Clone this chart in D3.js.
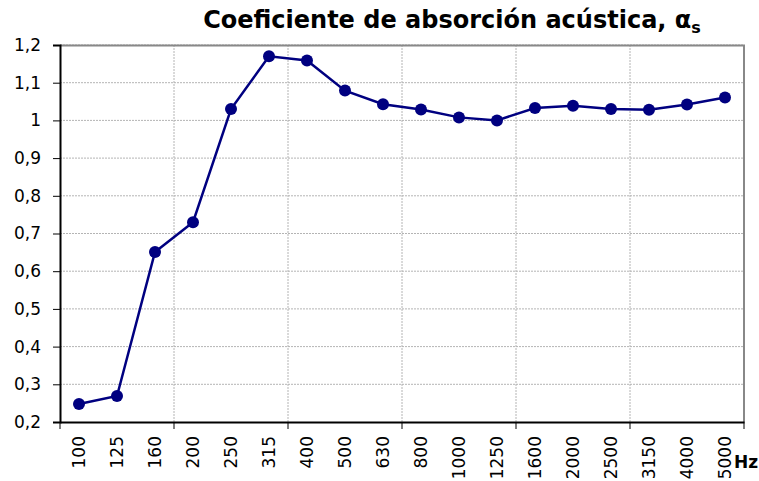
<!DOCTYPE html>
<html>
<head>
<meta charset="utf-8">
<script src="https://cdn.jsdelivr.net/npm/d3@7"></script>
<style>
  body { margin: 0; background: #fff; }
  text { font-family: Tahoma, "DejaVu Sans", sans-serif; }
</style>
</head>
<body>
<div id="chart-area"></div>
<script>
const freqs = ["100", "125", "160", "200", "250", "315", "400", "500", "630", "800",
	"1000", "1250", "1600", "2000", "2500", "3150", "4000", "5000"];
const alpha = [0.248, 0.269, 0.651, 0.73, 1.03, 1.17, 1.159, 1.079, 1.043, 1.029,
	1.008, 1.0, 1.033, 1.039, 1.03, 1.028, 1.042, 1.061];
const yTicks = [0.2, 0.3, 0.4, 0.5, 0.6, 0.7, 0.8, 0.9, 1, 1.1, 1.2];

const margin = { left: 60, right: 15, top: 45, bottom: 59 };
const width = 759 - margin.left - margin.right;
const height = 481 - margin.top - margin.bottom;

const svg = d3.select("#chart-area").append("svg")
	.attr("width", 759)
	.attr("height", 481);

const g = svg.append("g")
	.attr("transform", `translate(${margin.left},${margin.top})`);

const x = d3.scaleBand()
	.domain(freqs)
	.range([0, width]);

const y = d3.scaleLinear()
	.domain([0.2, 1.2])
	.range([height, 0]);

// grid lines
g.selectAll(".hgrid")
	.data(yTicks.slice(1))
	.enter().append("line")
	.attr("x1", 0).attr("x2", width)
	.attr("y1", d => y(d)).attr("y2", d => y(d))
	.attr("stroke", "#b4b4b4")
	.attr("stroke-dasharray", "2,1");

const vBreaks = freqs.filter((d, i) => i % 3 === 0 && i > 0);
g.selectAll(".vgrid")
	.data(vBreaks)
	.enter().append("line")
	.attr("x1", d => x(d)).attr("x2", d => x(d))
	.attr("y1", 0).attr("y2", height)
	.attr("stroke", "#b4b4b4")
	.attr("stroke-dasharray", "2,1");

// frame top & right
g.append("path")
	.attr("d", `M0,0.5H${width}V${height}`)
	.attr("fill", "none")
	.attr("stroke", "#888")
	.attr("stroke-width", 2);

// y axis
const yAxis = g.append("g")
	.call(d3.axisLeft(y).tickValues(yTicks).tickSize(7)
		.tickFormat(d => d3.format(".1f")(d).replace(".0", "").replace(".", ",")));
yAxis.select(".domain").attr("stroke", "#000").attr("stroke-width", 2);
yAxis.selectAll("text")
	.attr("x", -19)
	.style("font-size", "17px")
	.style("font-family", "Tahoma, 'DejaVu Sans', sans-serif")
	.attr("fill", "#000");

// x axis
const xAxis = g.append("g")
	.attr("transform", `translate(0,${height})`)
	.call(d3.axisBottom(x).tickSize(0).tickFormat(d => d));
xAxis.select(".domain").attr("stroke", "#000").attr("stroke-width", 2);
xAxis.selectAll("text")
	.attr("transform", "rotate(-90)")
	.attr("x", -14)
	.attr("y", 0)
	.attr("dy", "0.35em")
	.style("text-anchor", "end")
	.style("font-size", "17px")
	.style("font-family", "Tahoma, 'DejaVu Sans', sans-serif")
	.attr("fill", "#000");

g.selectAll(".xtick")
	.data(freqs.filter((d, i) => i % 3 === 0).concat(["end"]))
	.enter().append("line")
	.attr("x1", d => d === "end" ? width : x(d))
	.attr("x2", d => d === "end" ? width : x(d))
	.attr("y1", height).attr("y2", height + 7)
	.attr("stroke", "#000");

// series
const line = d3.line()
	.x((d, i) => x(freqs[i]) + x.bandwidth() / 2)
	.y(d => y(d));

g.append("path")
	.datum(alpha)
	.attr("d", line)
	.attr("fill", "none")
	.attr("stroke", "#000080")
	.attr("stroke-width", 2.5);

g.selectAll(".dot")
	.data(alpha)
	.enter().append("circle")
	.attr("cx", (d, i) => x(freqs[i]) + x.bandwidth() / 2)
	.attr("cy", d => y(d))
	.attr("r", 6)
	.attr("fill", "#000080");

// title
const title = svg.append("text")
	.attr("x", 452)
	.attr("y", 28)
	.attr("text-anchor", "middle")
	.style("font-size", "24px")
	.style("font-weight", "bold");
title.append("tspan").text("Coeficiente de absorción acústica, α");
title.append("tspan").attr("dy", 5).style("font-size", "16px").text("s");

svg.append("text")
	.attr("x", 734)
	.attr("y", 468)
	.style("font-size", "17px")
	.style("font-weight", "bold")
	.text("Hz");
</script>
</body>
</html>
